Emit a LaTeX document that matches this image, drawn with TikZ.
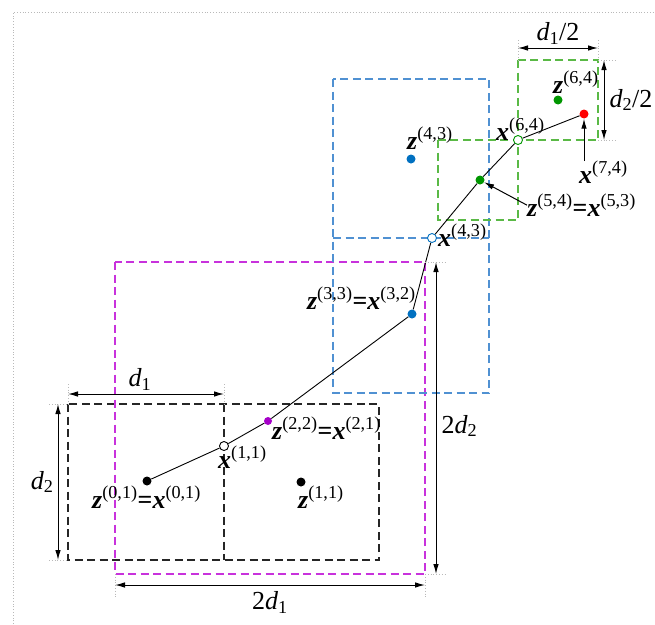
\documentclass[tikz,border=0pt]{standalone}
\usepackage{fontspec}
\setmainfont{Liberation Serif}
\usetikzlibrary{arrows.meta,positioning}

\definecolor{cellblue}{RGB}{80,145,210}
\definecolor{cellgreen}{RGB}{90,185,70}
\definecolor{cellmag}{RGB}{200,50,220}
\definecolor{dotblue}{RGB}{0,112,192}
\definecolor{dotgreen}{RGB}{0,150,0}
\definecolor{dotmag}{RGB}{165,0,200}

\newcommand{\zlab}[1]{{\bfseries\itshape z}\textsuperscript{(#1)}}
\newcommand{\xlab}[1]{{\bfseries\itshape x}\textsuperscript{(#1)}}
\newcommand{\dlab}[1]{{\itshape d}\textsubscript{#1}}

\begin{document}
\begin{tikzpicture}[
    x=1pt, y=-1pt,
    dot/.style={circle, fill, inner sep=0pt, minimum size=9pt},
    hole/.style={circle, draw, fill=white, inner sep=0pt, minimum size=9pt, line width=0.9pt},
    cell/.style={dash pattern=on 8pt off 4.5pt, line width=1.1pt},
    guide/.style={dotted, gray!55, line width=0.8pt},
    dim/.style={{Latex[length=10pt,width=5.5pt]}-{Latex[length=10pt,width=5.5pt]}, line width=1pt},
    ptr/.style={-{Latex[length=10pt,width=5.5pt]}, line width=1pt},
    track/.style={line width=0.9pt},
    lab/.style={font=\fontsize{26}{28}\selectfont, inner sep=0pt}
]
\useasboundingbox (0,0) rectangle (655,624);
\draw[guide] (13,624) -- (13,12) -- (655,12);

% cells
\draw[cell, black!85] (68,404) rectangle (379,560);
\draw[cell, black!85] (224,404) -- (224,560);
\draw[cell, cellmag] (115,262) rectangle (425,574);
\draw[cell, cellblue] (333,79) rectangle (489,393);
\draw[cell, cellblue] (333,238) -- (489,238);
\draw[cell, cellgreen] (518,60) rectangle (598,140);
\draw[cell, cellgreen] (438,140) rectangle (518,220);

% points
\node[dot] (z01) at (147,481) {};
\node[hole] (x11) at (224,446) {};
\node[dot, fill=dotmag, minimum size=8pt] (z22) at (268,421) {};
\node[dot, fill=dotblue] (z33) at (412,314) {};
\node[hole, draw=dotblue] (x43) at (432,238) {};
\node[dot, fill=dotgreen] (z54) at (480,180) {};
\node[hole, draw=dotgreen] (x64) at (518,140) {};
\node[dot, fill=red] (x74) at (584,114) {};
\node[dot, fill=dotgreen] (z64) at (558,100) {};
\node[dot, fill=dotblue] (z43) at (411,159) {};
\node[dot] (z11) at (301,482) {};

\draw[track] (z01) -- (x11) -- (z22) -- (z33) -- (x43) -- (z54) -- (x64) -- (x74);

% labels
\node[lab, anchor=base west] (t01) at (92,508) {\zlab{0,1}\textbf{=}\xlab{0,1}};
\node[lab, anchor=base west] (t11) at (218,468) {\xlab{1,1}};
\node[lab, anchor=base west] (t22) at (272,439) {\zlab{2,2}\textbf{=}\xlab{2,1}};
\node[lab, anchor=base west] (tz11) at (298,508) {\zlab{1,1}};
\node[lab, anchor=base east] (t33) at (416,309) {\zlab{3,3}\textbf{=}\xlab{3,2}};
\node[lab, anchor=base west] (t43) at (438,246) {\xlab{4,3}};
\node[lab, anchor=base west] (tz43) at (407,149) {\zlab{4,3}};
\node[lab, anchor=base west] (t64) at (496,140) {\xlab{6,4}};
\node[lab, anchor=base west] (tz64) at (553,93) {\zlab{6,4}};
\node[lab, anchor=base west] (t74) at (579,183) {\xlab{7,4}};
\node[lab, anchor=base west] (t54) at (527,216) {\zlab{5,4}\textbf{=}\xlab{5,3}};

\draw[ptr] (x74 |- t74.north) -- (x74);
\draw[ptr] (t54.west) -- (z54);

% dimensions
\coordinate (d1a) at (68,394);
\coordinate (d1b) at (224,394);
\draw[guide] (68,384) -- (68,404) (224,384) -- (224,404);
\draw[dim] (d1a) -- (d1b) node[lab, midway, above=3pt, xshift=-6pt] (td1) {\dlab{1}};

\coordinate (d2a) at (58,404);
\coordinate (d2b) at (58,560);
\draw[guide] (49,404) -- (68,404) (49,560) -- (68,560);
\draw[dim] (d2a) -- (d2b) node[lab, midway, left=4pt] (td2) {\dlab{2}};

\coordinate (e1a) at (115,585);
\coordinate (e1b) at (425,585);
\draw[guide] (115,574) -- (115,597) (425,574) -- (425,597);
\draw[dim] (e1a) -- (e1b) node[lab, midway, below=6pt] (te1) {2\dlab{1}};

\coordinate (e2a) at (436,262);
\coordinate (e2b) at (436,574);
\draw[guide] (425,262) -- (446,262) (425,574) -- (446,574);
\draw[dim] (e2a) -- (e2b) node[lab, midway, right=5pt, yshift=-8pt] (te2) {2\dlab{2}};

\coordinate (h1a) at (518,48);
\coordinate (h1b) at (598,48);
\draw[guide] (518,40) -- (518,60) (598,40) -- (598,60);
\draw[dim] (h1a) -- (h1b) node[lab, midway, above=3pt] (th1) {\dlab{1}/2};

\coordinate (h2a) at (604,60);
\coordinate (h2b) at (604,140);
\draw[guide] (598,60) -- (616,60) (598,140) -- (616,140);
\draw[dim] (h2a) -- (h2b) node[lab, midway, right=5pt] (th2) {\dlab{2}/2};
\end{tikzpicture}
\end{document}
